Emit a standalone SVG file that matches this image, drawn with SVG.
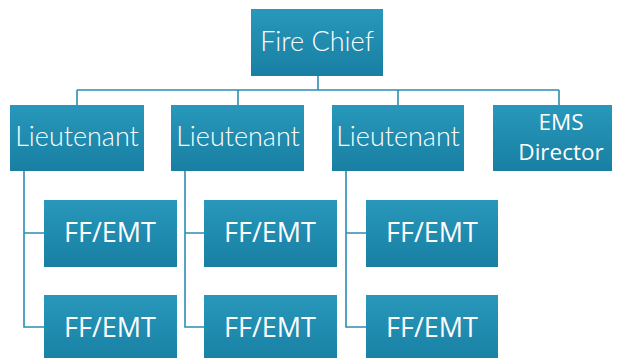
<svg xmlns="http://www.w3.org/2000/svg" width="617" height="358" viewBox="0 0 617 358">
<defs>
<linearGradient id="g" x1="0" y1="0" x2="0" y2="1">
<stop offset="0" stop-color="#2898ba"/>
<stop offset="1" stop-color="#187fa3"/>
</linearGradient>
<style>
.box{fill:url(#g);}
.t1{font-family:"Lato","Open Sans",sans-serif;font-size:27px;fill:#ffffff;text-anchor:middle;font-weight:300;}
.t2{font-family:"Open Sans","Liberation Sans",sans-serif;font-size:27px;fill:#ffffff;text-anchor:middle;font-weight:400;}
.t3{font-family:"Open Sans","Liberation Sans",sans-serif;font-size:22.5px;fill:#ffffff;text-anchor:middle;font-weight:400;}
.c{fill:none;stroke:#2a8db2;stroke-width:1.6;}
</style>
</defs>
<rect width="617" height="358" fill="#ffffff"/>
<g id="connectors">
<path class="c" d="M318 76V90M77 90H559M77 90V105M238 90V105M398 90V105M559 90V105"/>
<path class="c" d="M24 171V327H44M24 233H44"/>
<path class="c" d="M185 171V327H204M185 233H204"/>
<path class="c" d="M346 171V327H366M346 233H366"/>
</g>
<g id="fire-chief"><rect class="box" x="251" y="9" width="132" height="67"/><text class="t1" x="317" y="51">Fire Chief</text></g>
<g id="lt1"><rect class="box" x="10" y="105" width="134" height="66"/><text class="t1" x="77" y="146">Lieutenant</text></g>
<g id="lt2"><rect class="box" x="171" y="105" width="133" height="66"/><text class="t1" x="238" y="146">Lieutenant</text></g>
<g id="lt3"><rect class="box" x="332" y="105" width="132" height="66"/><text class="t1" x="398" y="146">Lieutenant</text></g>
<g id="ems"><rect class="box" x="493" y="105" width="119" height="66"/><text class="t3" x="561" y="130">EMS</text><text class="t3" x="561" y="160">Director</text></g>
<g id="ff1a"><rect class="box" x="44" y="200" width="133" height="67"/><text class="t2" x="110" y="242">FF/EMT</text></g>
<g id="ff1b"><rect class="box" x="44" y="295" width="133" height="70"/><text class="t2" x="110" y="337">FF/EMT</text></g>
<g id="ff2a"><rect class="box" x="204" y="200" width="133" height="67"/><text class="t2" x="270" y="242">FF/EMT</text></g>
<g id="ff2b"><rect class="box" x="204" y="295" width="133" height="70"/><text class="t2" x="270" y="337">FF/EMT</text></g>
<g id="ff3a"><rect class="box" x="366" y="200" width="132" height="67"/><text class="t2" x="432" y="242">FF/EMT</text></g>
<g id="ff3b"><rect class="box" x="366" y="295" width="132" height="70"/><text class="t2" x="432" y="337">FF/EMT</text></g>
</svg>
